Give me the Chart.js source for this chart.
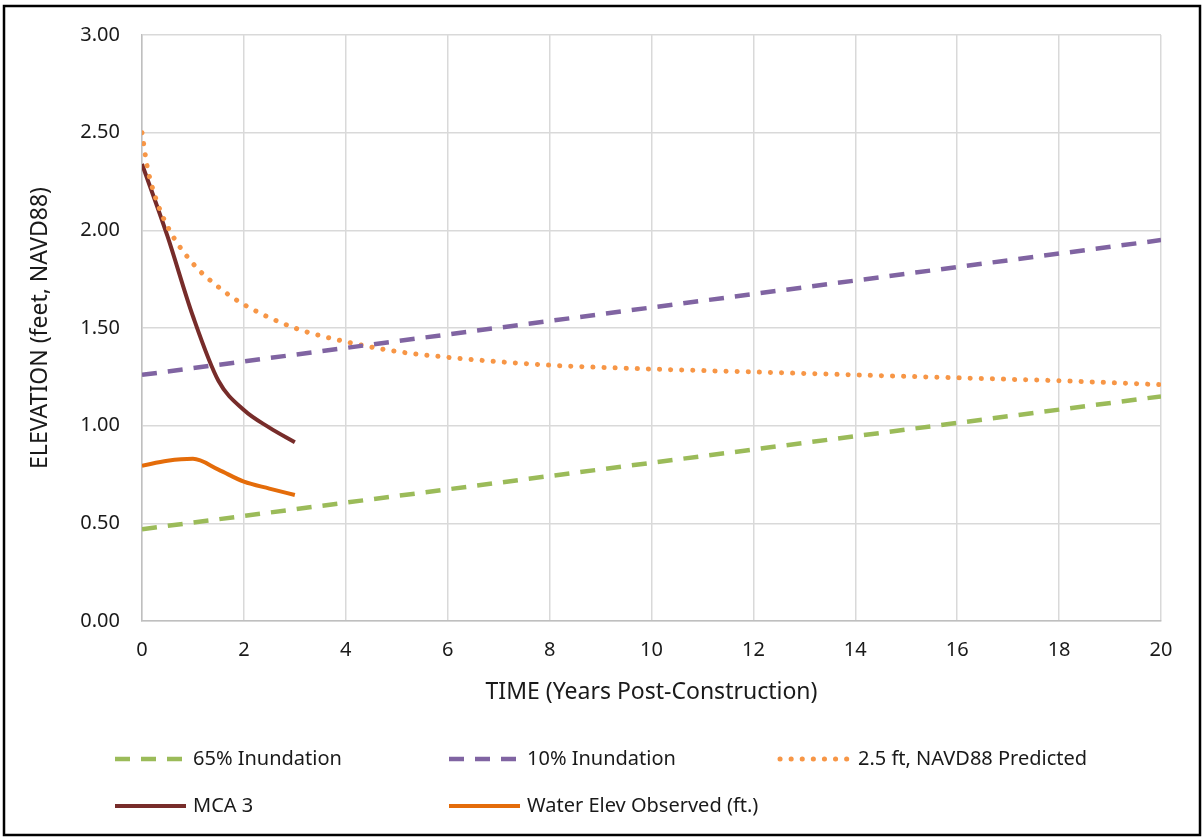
<!DOCTYPE html>
<html>
<head>
<meta charset="utf-8">
<script src="https://cdn.jsdelivr.net/npm/chart.js@4.4.0/dist/chart.umd.min.js"></script>
<style>
  html, body { margin: 0; padding: 0; background: #fff; }
  #wrap { width: 1204px; height: 840px; position: relative; }
</style>
</head>
<body>
<div id="wrap"><canvas id="chart" width="1204" height="840"></canvas></div>
<script>
// Years post-construction and elevations (feet, NAVD88)
const inundYears = [0, 20];
const inund65 = [0.47, 1.15];
const inund10 = [1.26, 1.95];

const predYears = [0, 0.1, 0.25, 0.5, 1, 1.5, 2, 3, 4, 5, 6, 8, 10, 12, 14, 16, 18, 20];
const predicted = [2.50, 2.33, 2.18, 2.02, 1.83, 1.71, 1.62, 1.50, 1.43, 1.38, 1.35, 1.31, 1.29, 1.275, 1.26, 1.245, 1.23, 1.21];

const obsYears = [0, 0.5, 1, 1.5, 2, 2.5, 3];
const mca3 = [2.34, 1.97, 1.56, 1.23, 1.08, 0.99, 0.915];
const waterObs = [0.795, 0.82, 0.83, 0.775, 0.713, 0.678, 0.645];

const xTicks = [0, 2, 4, 6, 8, 10, 12, 14, 16, 18, 20];

const FONT = '"Noto Sans", "Open Sans", sans-serif';

function pts(xs, ys) {
    return xs.map((x, i) => ({ x: x, y: ys[i] }));
}

// legend drawn in two rows / three columns like the original
const legendSlots = [
    { x: 115, y: 759 }, { x: 449, y: 759 }, { x: 780, y: 759 },
    { x: 115, y: 806 }, { x: 449, y: 806 }
];

const frameAndLegend = {
    id: 'frameAndLegend',
    beforeDraw(chart) {
        const ctx = chart.ctx;
        ctx.save();
        ctx.fillStyle = '#fff';
        ctx.fillRect(0, 0, chart.width, chart.height);
        ctx.restore();
    },
    afterDraw(chart) {
        const ctx = chart.ctx;
        ctx.save();
        chart.data.datasets.forEach((ds, i) => {
            const slot = legendSlots[i];
            if (!slot) return;
            ctx.beginPath();
            ctx.strokeStyle = ds.borderColor;
            ctx.lineWidth = ds.borderWidth;
            ctx.lineCap = ds.borderCapStyle || 'butt';
            ctx.setLineDash(ds.borderDash || []);
            ctx.moveTo(slot.x, slot.y);
            ctx.lineTo(slot.x + 71, slot.y);
            ctx.stroke();
            ctx.setLineDash([]);
            ctx.fillStyle = '#1a1a1a';
            ctx.font = '20px ' + FONT;
            ctx.textBaseline = 'middle';
            ctx.fillText(ds.label, slot.x + 78, slot.y);
        });
        // outer frame
        ctx.strokeStyle = '#000';
        ctx.lineWidth = 2.5;
        ctx.strokeRect(4, 6, 1196, 829);
        ctx.restore();
    }
};

new Chart(document.getElementById('chart'), {
    type: 'line',
    data: {
        datasets: [
            {
                label: '65% Inundation',
                data: pts(inundYears, inund65),
                borderColor: '#9BBB59',
                borderWidth: 4.5,
                borderDash: [15, 11]
            },
            {
                label: '10% Inundation',
                data: pts(inundYears, inund10),
                borderColor: '#8064A2',
                borderWidth: 4.5,
                borderDash: [15, 11]
            },
            {
                label: '2.5 ft, NAVD88 Predicted',
                data: pts(predYears, predicted),
                borderColor: '#F79646',
                borderWidth: 5,
                borderDash: [0.1, 11],
                borderCapStyle: 'round',
                cubicInterpolationMode: 'monotone'
            },
            {
                label: 'MCA 3',
                data: pts(obsYears, mca3),
                borderColor: '#772C2A',
                borderWidth: 4,
                cubicInterpolationMode: 'monotone'
            },
            {
                label: 'Water Elev Observed (ft.)',
                data: pts(obsYears, waterObs),
                borderColor: '#E46C0A',
                borderWidth: 4,
                cubicInterpolationMode: 'monotone'
            }
        ]
    },
    options: {
        responsive: false,
        animation: false,
        elements: { point: { radius: 0 } },
        layout: { padding: { top: 35, right: 43, left: 27, bottom: 134 } },
        plugins: {
            legend: { display: false },
            tooltip: { enabled: false }
        },
        scales: {
            x: {
                type: 'linear',
                min: 0,
                max: 20,
                afterBuildTicks(scale) { scale.ticks = xTicks.map(v => ({ value: v })); },
                afterFit(scale) { scale.height = 85; },
                grid: { color: '#D9D9D9', lineWidth: 1.5, drawTicks: false },
                border: { color: '#BFBFBF', width: 1.5 },
                ticks: { color: '#1a1a1a', padding: 17, font: { family: FONT, size: 20 } },
                title: {
                    display: true,
                    text: 'TIME (Years Post-Construction)',
                    color: '#1a1a1a',
                    font: { family: FONT, size: 23 },
                    padding: { top: 8, bottom: 0 }
                }
            },
            y: {
                min: 0,
                max: 3,
                ticks: {
                    stepSize: 0.5,
                    color: '#1a1a1a',
                    padding: 22,
                    font: { family: FONT, size: 20 },
                    callback: v => v.toFixed(2)
                },
                afterFit(scale) { scale.width = 142 - 27; },
                grid: { color: '#D9D9D9', lineWidth: 1.5, drawTicks: false },
                border: { color: '#BFBFBF', width: 1.5 },
                title: {
                    display: true,
                    text: 'ELEVATION (feet, NAVD88)',
                    color: '#1a1a1a',
                    font: { family: FONT, size: 23 },
                    padding: 0
                }
            }
        }
    },
    plugins: [frameAndLegend]
});
</script>
</body>
</html>
